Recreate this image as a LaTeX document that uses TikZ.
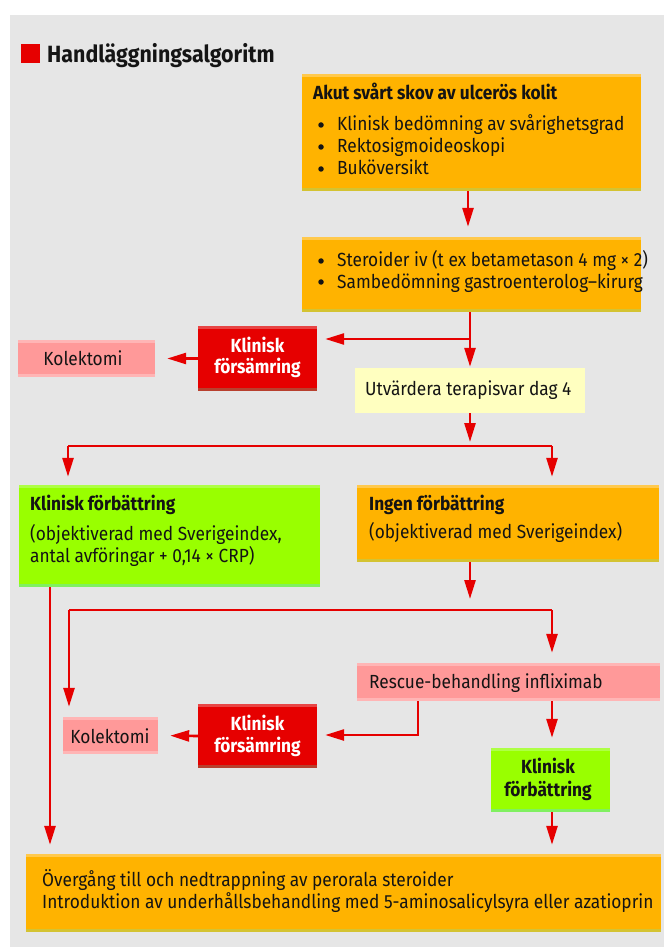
\documentclass[tikz,border=0pt]{standalone}
\usepackage{fontspec}
\setmainfont{Fira Sans}[FakeStretch=0.91]
\usetikzlibrary{arrows.meta}
\definecolor{bg}{HTML}{E6E6E6}
\definecolor{orng}{HTML}{FFB300}
\definecolor{orngtop}{HTML}{FFC94D}
\definecolor{orngbot}{HTML}{D4C332}
\definecolor{rd}{HTML}{E60000}
\definecolor{rdtop}{HTML}{E84545}
\definecolor{rdbot}{HTML}{B8402E}
\definecolor{pnk}{HTML}{FF9999}
\definecolor{pnktop}{HTML}{FFB5B5}
\definecolor{grn}{HTML}{99FF00}
\definecolor{grntop}{HTML}{AEFF45}
\definecolor{grnbot}{HTML}{80F060}
\definecolor{ylw}{HTML}{FFFFC0}
\definecolor{arrc}{HTML}{E60000}
\definecolor{txtc}{HTML}{141414}
\tikzset{
  striped/.style n args={3}{rectangle, inner sep=0pt, fill=#1,
    path picture={
      \fill[#2] (path picture bounding box.north west) rectangle ([yshift=-3pt]path picture bounding box.north east);
      \fill[#3] (path picture bounding box.south west) rectangle ([yshift=3pt]path picture bounding box.south east);
    }},
  obox/.style={striped={orng}{orngtop}{orngbot}},
  rbox/.style={striped={rd}{rdtop}{rdbot}},
  pbox/.style={striped={pnk}{pnktop}{pnktop}},
  gbox/.style={striped={grn}{grntop}{grnbot}},
  ybox/.style={rectangle, inner sep=0pt, fill=ylw},
  dot/.style={circle, fill=txtc, minimum size=5.5pt, inner sep=0pt},
  txt/.style={inner sep=0pt, anchor=base west, text=txtc, font=\fontsize{19}{22}\selectfont},
  btxt/.style={txt, font=\fontsize{19}{22}\selectfont\bfseries},
  wtxt/.style={inner sep=0pt, anchor=base, text=white, font=\fontsize{19}{22}\selectfont\bfseries},
  ctxt/.style={inner sep=0pt, anchor=base, text=txtc, font=\fontsize{19}{22}\selectfont\bfseries},
  ktxt/.style={inner sep=0pt, anchor=base, text=txtc, font=\fontsize{19}{22}\selectfont},
  wire/.style={draw=arrc, line width=2.6pt},
  arr/.style={draw=arrc, line width=2.6pt, -{Triangle[length=19pt,width=11pt]}},
}
\begin{document}
\begin{tikzpicture}[x=1pt,y=-1pt]
\useasboundingbox (0,0) rectangle (664,949);
\fill[bg] (10,15) rectangle (664,947);

% title
\node[fill=rd, minimum size=19pt, inner sep=0pt] (sq) at (30.5,53.5) {};
\node[inner sep=0pt, anchor=base west, text=txtc, font=\fontsize{23.5}{26}\selectfont\bfseries] (title) at (47,62.7) {Handläggningsalgoritm};

% boxes
\node[obox, minimum width=339pt, minimum height=117pt] (b1) at (471.5,132.5) {};
\node[obox, minimum width=339pt, minimum height=75pt] (b2) at (471.5,274.5) {};
\node[rbox, minimum width=119pt, minimum height=65pt] (r1) at (257.5,358.5) {};
\node[pbox, minimum width=137pt, minimum height=37pt] (k1) at (86.5,358.5) {};
\node[ybox, minimum width=230pt, minimum height=45pt] (U) at (470,390.5) {};
\node[gbox, minimum width=301pt, minimum height=102pt] (g1) at (169.5,536) {};
\node[obox, minimum width=302pt, minimum height=77pt] (o2) at (508,523.5) {};
\node[pbox, minimum width=303pt, minimum height=38pt] (R) at (508.5,682) {};
\node[rbox, minimum width=119pt, minimum height=64pt] (r2) at (257.5,736) {};
\node[pbox, minimum width=95pt, minimum height=37pt] (k2) at (110.5,735.5) {};
\node[gbox, minimum width=119pt, minimum height=64pt] (g2) at (550.5,780) {};
\node[obox, minimum width=635pt, minimum height=78pt] (F) at (343.5,893) {};

% bullets
\node[dot] (d1) at (321,125) {};
\node[dot] (d2) at (321,147) {};
\node[dot] (d3) at (321,169) {};
\node[dot] (d4) at (321,261) {};
\node[dot] (d5) at (321,282) {};

% texts
\node[btxt] (t1a) at (313,100) {Akut svårt skov av ulcerös kolit};
\node[txt] (t1b) at (337,131) {Klinisk bedömning av svårighetsgrad};
\node[txt] (t1c) at (337,153) {Rektosigmoideoskopi};
\node[txt] (t1d) at (337,175) {Buköversikt};
\node[txt] (t2a) at (337,267) {Steroider iv (t ex betametason 4 mg × 2)};
\node[txt] (t2b) at (337,288) {Sambedömning gastroenterolog–kirurg};
\node[wtxt] (tr1a) at (257.5,352.7) {Klinisk};
\node[wtxt] (tr1b) at (257.5,373) {försämring};
\node[ktxt] (tk1) at (83,365) {Kolektomi};
\node[txt] (tU) at (365,395) {Utvärdera terapisvar dag 4};
\node[btxt] (tg1a) at (30,510) {Klinisk förbättring};
\node[txt] (tg1b) at (30,540) {(objektiverad med Sverigeindex,};
\node[txt] (tg1c) at (30,562) {antal avföringar + 0,14 × CRP)};
\node[btxt] (to2a) at (369,510) {Ingen förbättring};
\node[txt] (to2b) at (369,538) {(objektiverad med Sverigeindex)};
\node[txt] (tR) at (369,688) {Rescue-behandling infliximab};
\node[wtxt] (tr2a) at (257.5,730) {Klinisk};
\node[wtxt] (tr2b) at (257.5,752) {försämring};
\node[ktxt] (tk2) at (110,743) {Kolektomi};
\node[ctxt] (tg2a) at (548,773) {Klinisk};
\node[ctxt] (tg2b) at (548,796) {förbättring};
\node[txt] (tFa) at (42,886) {Övergång till och nedtrappning av perorala steroider};
\node[txt] (tFb) at (42,908) {Introduktion av underhållsbehandling med 5-aminosalicylsyra eller azatioprin};

% connectors
\coordinate (x468) at (468,0);
\draw[arr, shorten >=10pt] (b1.south -| x468) -- (b2.north -| x468);
\coordinate (j1) at (470,339);
\draw[arr, shorten >=1pt] (b2.south -| U.north) -- (U.north);
\draw[arr, shorten >=8pt] (j1) -- (r1.east |- j1);
\draw[arr, shorten >=12pt] (r1.west) -- (k1.east);

\coordinate (s1) at (470,446);
\coordinate (sL) at (68,446);
\coordinate (sR) at (552,446);
\draw[arr, shorten >=4pt] (U.south) -- (s1);
\draw[wire] (sL) -- (sR);
\draw[arr, shorten >=8pt] (sL) -- (sL |- g1.north);
\draw[arr, shorten >=8pt] (sR) -- (sR |- o2.north);

\coordinate (t1) at (470,610);
\coordinate (tL) at (69,610);
\coordinate (tR) at (552,610);
\draw[arr, shorten >=11pt] (o2.south -| t1) -- (t1);
\draw[wire] (tL) -- (tR);
\draw[arr, shorten >=10pt] (tL) -- (tL |- k2.north);
\draw[arr, shorten >=10pt] (tR) -- (tR |- R.north);

\coordinate (rb) at (418,735);
\draw[arr, shorten >=8pt] (R.south -| rb) -- (rb) -- (r2.east |- rb);
\draw[arr, shorten >=12pt] (r2.west) -- (k2.east);
\draw[arr, shorten >=10pt] (R.south -| tR) -- (tR |- g2.north);
\draw[arr, shorten >=9pt] (g2.south -| tR) -- (tR |- F.north);
\coordinate (lx) at (50,0);
\draw[arr, shorten >=9pt] (g1.south -| lx) -- (lx |- F.north);
\end{tikzpicture}
\end{document}
